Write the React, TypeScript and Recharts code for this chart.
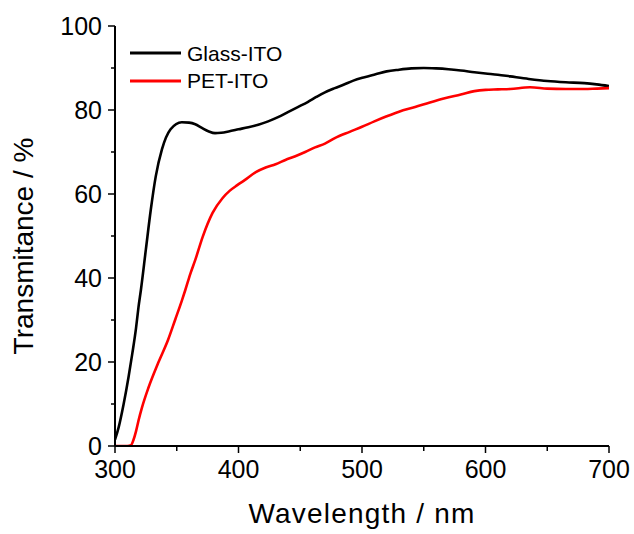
import React from 'react';
import { LineChart, Line, XAxis, YAxis, Legend } from 'recharts';

const glassWavelength = [300, 303, 307, 311, 314, 317, 319, 321, 325, 329, 333, 338, 345, 354, 360, 365, 370, 376, 381, 386, 392, 400, 408, 416, 424, 432, 440, 448, 456, 463, 470, 478, 485, 493, 502, 511, 520, 530, 540, 550, 560, 570, 580, 591, 600, 610, 620, 635, 650, 665, 680, 690, 700];
const glassTransmittance = [1.5, 4.5, 10, 16.5, 22, 28, 33, 37.2, 46.8, 56.3, 64.2, 70.6, 75.4, 77.1, 77.0, 76.6, 75.8, 74.9, 74.5, 74.6, 74.9, 75.4, 75.9, 76.5, 77.3, 78.3, 79.5, 80.7, 81.9, 83.1, 84.2, 85.2, 86.0, 87.0, 87.8, 88.5, 89.2, 89.6, 89.9, 90.0, 89.9, 89.7, 89.4, 89.0, 88.7, 88.4, 88.0, 87.4, 86.9, 86.6, 86.4, 86.1, 85.7];

const petWavelength = [300, 305, 310, 313, 315, 317, 319, 322, 327, 335, 343, 349, 354, 357, 361, 365, 371, 379, 387, 393, 399, 405, 414, 422, 430, 438, 446, 454, 462, 470, 478, 490, 500, 510, 520, 530, 543, 555, 567, 580, 591, 600, 610, 620, 636, 650, 665, 680, 690, 700];
const petTransmittance = [0, 0, 0, 0.2, 1.5, 3.5, 6, 9.3, 13.8, 19.8, 25.3, 30.3, 34.5, 37.2, 41, 44.3, 49.8, 55.5, 59, 60.8, 62.1, 63.3, 65.2, 66.3, 67.1, 68.1, 69.0, 70.0, 71.1, 72.0, 73.3, 74.8, 76.0, 77.3, 78.5, 79.6, 80.7, 81.8, 82.8, 83.7, 84.5, 84.8, 84.9, 85.0, 85.4, 85.1, 85.0, 85.0, 85.1, 85.2];

const xTicks = [300, 350, 400, 450, 500, 550, 600, 650, 700];
const xMajorTicks = [300, 400, 500, 600, 700];
const yTicks = [0, 10, 20, 30, 40, 50, 60, 70, 80, 90, 100];
const yMajorTicks = [0, 20, 40, 60, 80, 100];

const seriesNames = ['Glass-ITO', 'PET-ITO'];
const seriesColors = ['#000000', '#ff0000'];

const glassData = glassWavelength.map((w, i) => ({ wavelength: w, t: glassTransmittance[i] }));
const petData = petWavelength.map((w, i) => ({ wavelength: w, t: petTransmittance[i] }));

const FONT = '"Liberation Sans", Arial, sans-serif';

const BottomTick = (props: any) => {
  const { x, y, payload } = props;
  const major = xMajorTicks.includes(payload.value);
  return (
    <g>
      <line x1={x} x2={x} y1={y} y2={y + (major ? 7 : 5)} stroke="#000" strokeWidth={1.5} />
      {major && (
        <text x={x} y={y + 32} textAnchor="middle" fontSize={25} fontFamily={FONT} fill="#000">
          {payload.value}
        </text>
      )}
    </g>
  );
};

const TopTick = (props: any) => {
  const { x, y } = props;
  return <line x1={x} x2={x} y1={y} y2={y + 4} stroke="#000" strokeWidth={1.5} />;
};

const LeftTick = (props: any) => {
  const { x, y, payload } = props;
  const major = yMajorTicks.includes(payload.value);
  return (
    <g>
      <line x1={x - (major ? 7 : 4)} x2={x} y1={y} y2={y} stroke="#000" strokeWidth={1.5} />
      {major && (
        <text x={x - 13} y={y + 8.6} textAnchor="end" fontSize={25} fontFamily={FONT} fill="#000">
          {payload.value}
        </text>
      )}
    </g>
  );
};

const RightTick = (props: any) => {
  const { x, y } = props;
  return <line x1={x} x2={x - 4} y1={y} y2={y} stroke="#000" strokeWidth={1.5} />;
};

const LegendContent = (props: any) => {
  const { payload } = props;
  return (
    <div style={{ fontFamily: FONT }}>
      {(payload || []).map((entry: any) => (
        <div key={entry.value} style={{ display: 'flex', alignItems: 'center', height: 27.5 }}>
          <svg width={51} height={4} style={{ marginRight: 6, display: 'block' }}>
            <line x1={0} x2={51} y1={2} y2={2} stroke={entry.color} strokeWidth={3} />
          </svg>
          <span style={{ fontSize: 21, lineHeight: '27px', color: '#000', whiteSpace: 'nowrap' }}>{entry.value}</span>
        </div>
      ))}
    </div>
  );
};

export default function App() {
  return (
    <div style={{ position: 'absolute', left: 0, top: 0, width: 634, height: 534, background: '#fff' }}>
      <LineChart width={634} height={534} margin={{ top: 26, right: 25, left: 0, bottom: 0 }}>
        <XAxis
          xAxisId="bottom"
          dataKey="wavelength"
          type="number"
          domain={[300, 700]}
          ticks={xTicks}
          interval={0}
          tickSize={0}
          tickMargin={0}
          tickLine={false}
          height={88}
          axisLine={{ stroke: '#000', strokeWidth: 2 }}
          tick={<BottomTick />}
          allowDataOverflow
          label={{
            content: (p: any) => {
              const vb = p.viewBox || { x: 115, width: 494 };
              return (
                <text x={vb.x + vb.width / 2} y={523} textAnchor="middle" fontSize={28} letterSpacing={1.2} fontFamily={FONT} fill="#000">
                  Wavelength / nm
                </text>
              );
            },
          }}
        />
        <XAxis
          xAxisId="top"
          orientation="top"
          type="number"
          domain={[300, 700]}
          ticks={xTicks}
          interval={0}
          tickSize={0}
          tickMargin={0}
          tickLine={false}
          height={0}
          axisLine={{ stroke: '#000', strokeWidth: 2 }}
          tick={<TopTick />}
          allowDataOverflow
        />
        <YAxis
          yAxisId="left"
          type="number"
          domain={[0, 100]}
          ticks={yTicks}
          interval={0}
          tickSize={0}
          tickMargin={0}
          tickLine={false}
          width={115}
          axisLine={{ stroke: '#000', strokeWidth: 2 }}
          tick={<LeftTick />}
          allowDataOverflow
          label={{
            content: () => {
              const cy = 246;
              return (
                <text x={33} y={cy} transform={`rotate(-90, 33, ${cy})`} textAnchor="middle" fontSize={28} fontFamily={FONT} fill="#000">
                  Transmitance / %
                </text>
              );
            },
          }}
        />
        <YAxis
          yAxisId="right"
          orientation="right"
          type="number"
          domain={[0, 100]}
          ticks={yTicks}
          interval={0}
          tickSize={0}
          tickMargin={0}
          tickLine={false}
          width={0}
          axisLine={{ stroke: '#000', strokeWidth: 2 }}
          tick={<RightTick />}
          allowDataOverflow
        />
        <Legend
          layout="vertical"
          verticalAlign="middle"
          align="center"
          content={<LegendContent />}
          wrapperStyle={{ left: 130, top: 39.5, width: 'auto' }}
        />
        <Line
          xAxisId="bottom"
          yAxisId="left"
          data={glassData}
          dataKey="t"
          name={seriesNames[0]}
          stroke={seriesColors[0]}
          strokeWidth={2.6}
          dot={false}
          type="monotone"
          isAnimationActive={false}
        />
        <Line
          xAxisId="bottom"
          yAxisId="left"
          data={petData}
          dataKey="t"
          name={seriesNames[1]}
          stroke={seriesColors[1]}
          strokeWidth={2.6}
          dot={false}
          type="monotone"
          isAnimationActive={false}
        />
      </LineChart>
    </div>
  );
}
